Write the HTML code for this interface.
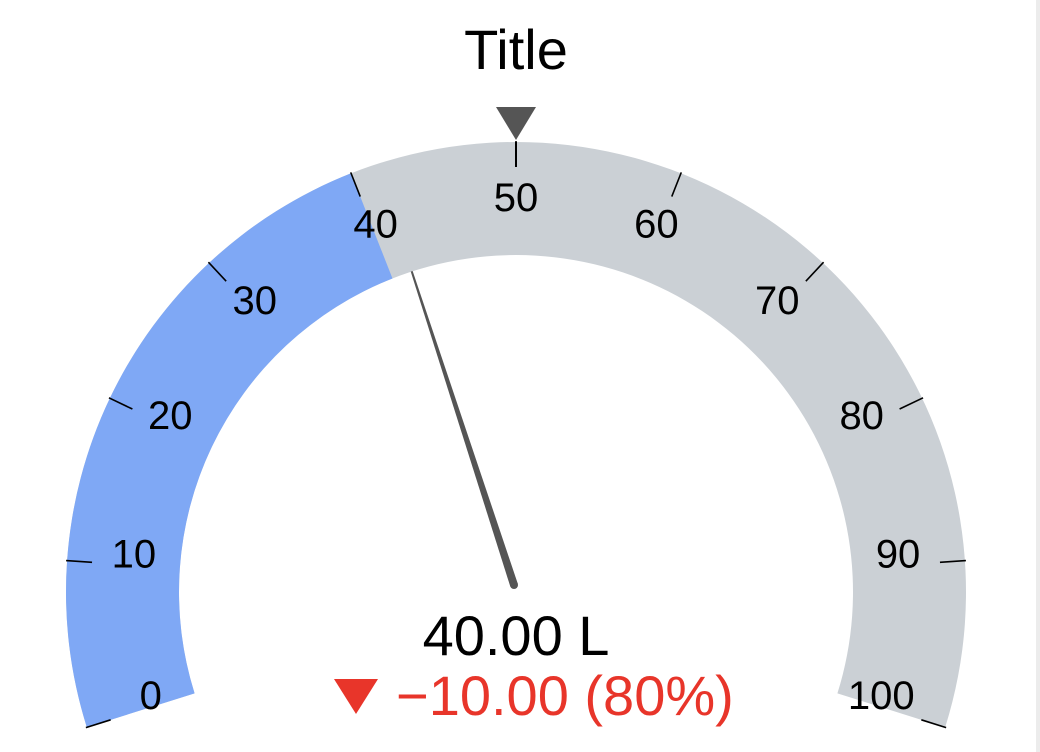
<!DOCTYPE html>
<html><head><meta charset="utf-8"><style>
html,body{margin:0;padding:0;background:#fff;width:1040px;height:752px;overflow:hidden}
svg{display:block}
text{font-family:"Liberation Sans",Arial,sans-serif}
</style></head><body>
<svg id="g" width="1040" height="752" viewBox="0 0 1040 752">
<rect x="1036" y="0" width="4" height="752" fill="#ececec"/>
<text x="516" y="69" font-size="56" text-anchor="middle" fill="#000">Title</text>
</svg>
<script>
const tickValues=[0,10,20,30,40,50,60,70,80,90,100];
const gaugeValue=[40];
const targetValue=[50];
const deltaValue=[-10];
const deltaPct=[80];
const unit="L";
const minV=0,maxV=100;
const cx=516,cy=592,R=450,r=337;
const NS="http://www.w3.org/2000/svg";
const svg=document.getElementById('g');
function ang(v){return (-107.5+215*(v-minV)/(maxV-minV))*Math.PI/180;}
function pt(v,rad){const a=ang(v);return [cx+rad*Math.sin(a),cy-rad*Math.cos(a)];}
function lpt(v){const a=ang(v);return [cx+383*Math.sin(a),580-383*Math.cos(a)];}
function mk(t,attrs){const e=document.createElementNS(NS,t);for(const k in attrs)e.setAttribute(k,attrs[k]);svg.appendChild(e);return e;}
function band(v0,v1){const a=pt(v0,R),b=pt(v1,R),c=pt(v1,r),d=pt(v0,r);
 const large=(ang(v1)-ang(v0))>Math.PI?1:0;
 return `M${a[0]},${a[1]} A${R},${R} 0 ${large} 1 ${b[0]},${b[1]} L${c[0]},${c[1]} A${r},${r} 0 ${large} 0 ${d[0]},${d[1]} Z`;}
const bg=mk('path',{d:band(minV,maxV),fill:'#cbd0d5'});


const fg=mk('path',{d:band(minV,gaugeValue[0]),fill:'#7fa8f5'});


tickValues.forEach(v=>{
 const a=pt(v,R+1),b=pt(v,R-25);
 const l=mk('line',{x1:a[0],y1:a[1],x2:b[0],y2:b[1],stroke:'#000','stroke-width':1.6});
 
 
 const p=lpt(v);
 const t=mk('text',{x:p[0],y:p[1]+14,'font-size':40,'text-anchor':'middle',fill:'#000'});
 t.textContent=v;
 
 
});
// target marker
const ta=ang(targetValue[0]);
const tp=pt(targetValue[0],R),tq=pt(targetValue[0],R-25);
const tl=mk('line',{x1:tp[0],y1:tp[1],x2:tq[0],y2:tq[1],stroke:'#000','stroke-width':2});


const tri=mk('polygon',{points:'-20,-35 20,-35 0,-2',fill:'#555',transform:`translate(${tp[0]},${tp[1]}) rotate(${ta*180/Math.PI})`});


// needle
const na=ang(gaugeValue[0])*0.84;
const bx=514,by=585,L=330;
const tx=bx+L*Math.sin(na),ty=by-L*Math.cos(na);
const px=Math.cos(na),py=Math.sin(na);
const nd=mk('path',{d:`M${bx-4*px},${by-4*py} L${tx-1*px},${ty-1*py} L${tx+1*px},${ty+1*py} L${bx+4*px},${by+4*py} Z`,fill:'#555'});


const nc=mk('circle',{cx:bx,cy:by,r:4,fill:'#555'});


// value text
const vt=mk('text',{x:516,y:655,'font-size':56,'text-anchor':'middle',fill:'#000'});
vt.textContent=gaugeValue[0].toFixed(2)+' '+unit;


const dtri=mk('polygon',{points:'334,679 378,679 356,714',fill:'#e8352a'});


const dt=mk('text',{x:396,y:715,'font-size':56,fill:'#e8352a'});
dt.textContent='\u2212'+Math.abs(deltaValue[0]).toFixed(2)+' ('+deltaPct[0]+'%)';


</script>
</body></html>
